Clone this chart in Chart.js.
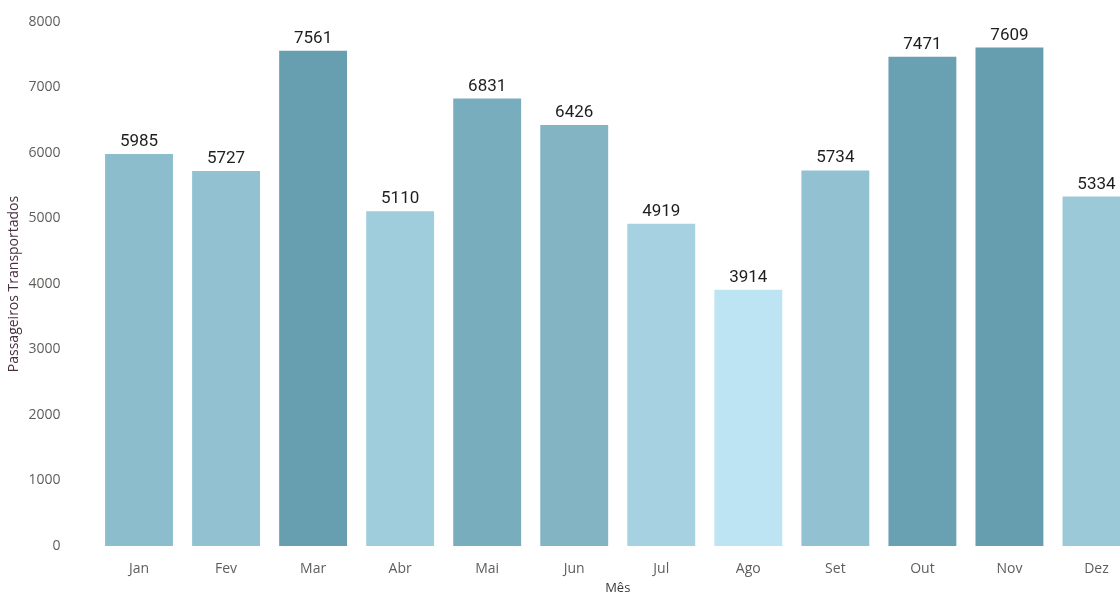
<!DOCTYPE html>
<html>
<head>
<meta charset="utf-8">
<script src="https://cdn.jsdelivr.net/npm/chart.js@4.4.1/dist/chart.umd.min.js"></script>
<style>
  html, body { margin: 0; padding: 0; background: #fff; overflow: hidden; }
  #wrap { width: 1140px; height: 596px; }
</style>
</head>
<body>
<div id="wrap"><canvas id="chart"></canvas></div>
<script>
const months = ['Jan', 'Fev', 'Mar', 'Abr', 'Mai', 'Jun', 'Jul', 'Ago', 'Set', 'Out', 'Nov', 'Dez'];
const passengers = [5985, 5727, 7561, 5110, 6831, 6426, 4919, 3914, 5734, 7471, 7609, 5334];
const yTicks = [0, 1000, 2000, 3000, 4000, 5000, 6000, 7000, 8000];

// colour scale: light for the lowest value, dark teal for the highest
const lightColor = [188, 228, 242];
const darkColor = [102, 158, 175];
const minVal = Math.min(...passengers);
const maxVal = Math.max(...passengers);

function barColor(v) {
    const t = (v - minVal) / (maxVal - minVal);
    const c = lightColor.map((l, i) => Math.round(l + (darkColor[i] - l) * t));
    return `rgb(${c[0]}, ${c[1]}, ${c[2]})`;
}

const valueLabels = {
    id: 'valueLabels',
    afterDatasetsDraw(chart) {
        const ctx = chart.ctx;
        const meta = chart.getDatasetMeta(0);
        ctx.save();
        ctx.font = '400 17px Roboto, "DejaVu Sans", sans-serif';
        ctx.fillStyle = '#1f1e1d';
        ctx.textAlign = 'center';
        ctx.textBaseline = 'alphabetic';
        meta.data.forEach((bar, i) => {
            ctx.fillText(String(passengers[i]), bar.x, bar.y - 8);
        });
        ctx.restore();
    }
};

const ctx = document.getElementById('chart').getContext('2d');
new Chart(ctx, {
    type: 'bar',
    data: {
        labels: months,
        datasets: [{
            data: passengers,
            backgroundColor: passengers.map(barColor),
            barPercentage: 0.78,
            categoryPercentage: 1
        }]
    },
    options: {
        responsive: true,
        maintainAspectRatio: false,
        animation: false,
        layout: { padding: { top: 22, left: 0, right: 0, bottom: 0 } },
        plugins: {
            legend: { display: false },
            tooltip: { enabled: false }
        },
        scales: {
            x: {
                grid: { display: false, drawTicks: false },
                border: { display: false },
                ticks: {
                    color: '#605E5C',
                    font: { family: '"Open Sans", "Noto Sans", sans-serif', size: 14 },
                    padding: 15,
                    maxRotation: 0
                },
                title: {
                    display: true,
                    text: 'Mês',
                    color: '#3b3a39',
                    font: { family: '"Open Sans", "Noto Sans", sans-serif', size: 13 },
                    padding: { top: 0, bottom: 0 }
                },
                afterFit(scale) { scale.height = 50; }
            },
            y: {
                min: 0,
                max: 8000,
                afterBuildTicks(scale) { scale.ticks = yTicks.map(v => ({ value: v })); },
                // invisible tick marks are used to push the labels away from the bars
                grid: { display: false, drawTicks: true, tickLength: 32 },
                border: { display: false },
                ticks: {
                    color: '#605E5C',
                    font: { family: '"Open Sans", "Noto Sans", sans-serif', size: 14 },
                    padding: 3,
                    callback: v => String(v)
                },
                title: {
                    display: true,
                    text: 'Passageiros Transportados',
                    color: '#4a3040',
                    font: { family: '"Open Sans", "Noto Sans", sans-serif', size: 14 },
                    padding: { top: 6, bottom: 0 }
                },
                afterFit(scale) { scale.width = 95.5; }
            }
        }
    },
    plugins: [valueLabels]
});
</script>
</body>
</html>
